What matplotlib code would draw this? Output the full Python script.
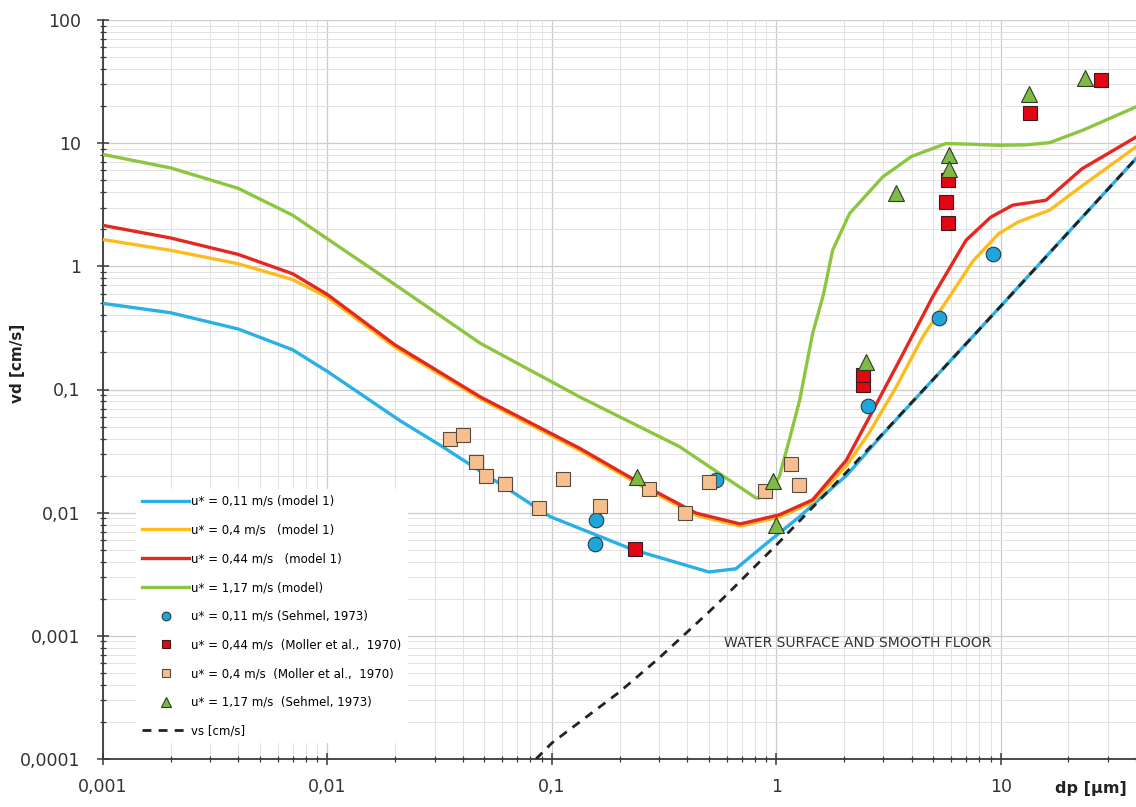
import matplotlib
matplotlib.use("Agg")
import matplotlib.pyplot as plt
from matplotlib.ticker import FixedLocator, FixedFormatter, LogLocator, NullFormatter

# ---------------- data ----------------
# model curves
dp_m011 = [0.001, 0.002, 0.004, 0.007, 0.01, 0.021, 0.032, 0.065, 0.098, 0.23, 0.5, 0.66,
           0.9, 1.27, 1.6, 2.05, 3.0, 5.0, 10.0, 20.0, 40.0]
vd_m011 = [0.5, 0.42, 0.31, 0.21, 0.14, 0.056, 0.035, 0.0152, 0.0093, 0.005, 0.0033, 0.0035,
           0.0056, 0.0093, 0.0135, 0.02, 0.044, 0.121, 0.476, 1.89, 7.5]

dp_m04 = [0.001, 0.002, 0.004, 0.007, 0.01, 0.02, 0.048, 0.133, 0.264, 0.44, 0.69, 1.03, 1.45,
          2.05, 2.6, 3.42, 4.5, 5.9, 7.5, 9.8, 12.0, 16.5, 23.0, 40.0]
vd_m04 = [1.65, 1.35, 1.05, 0.78, 0.56, 0.22, 0.084, 0.032, 0.0156, 0.0095, 0.0078, 0.0092, 0.0122,
          0.024, 0.045, 0.105, 0.27, 0.566, 1.1, 1.85, 2.3, 2.86, 4.5, 9.33]

dp_m044 = [0.001, 0.002, 0.004, 0.007, 0.01, 0.02, 0.048, 0.133, 0.264, 0.44, 0.69, 1.03, 1.45,
           2.05, 2.6, 3.54, 4.97, 7.0, 9.0, 11.3, 15.9, 23.0, 40.0]
vd_m044 = [2.15, 1.7, 1.25, 0.87, 0.59, 0.23, 0.087, 0.0333, 0.0162, 0.0099, 0.0081, 0.0096, 0.0127,
           0.0267, 0.06, 0.173, 0.566, 1.63, 2.5, 3.14, 3.44, 6.2, 11.2]

dp_m117 = [0.001, 0.002, 0.004, 0.007, 0.01, 0.02, 0.048, 0.133, 0.371, 0.6, 0.814, 0.9, 1.03,
           1.15, 1.27, 1.45, 1.62, 1.78, 2.12, 2.98, 4.0, 5.7, 7.5, 9.8, 13.0, 16.5, 23.2, 40.0]
vd_m117 = [8.1, 6.3, 4.3, 2.6, 1.67, 0.71, 0.237, 0.087, 0.0343, 0.019, 0.0131, 0.0135, 0.0196,
           0.041, 0.082, 0.285, 0.59, 1.35, 2.69, 5.33, 7.8, 9.94, 9.8, 9.6, 9.7, 10.1, 12.75, 19.7]

# settling velocity vs
dp_vs = [0.085, 0.1, 0.2, 0.3, 0.5, 0.587, 1.0, 2.0, 3.0, 5.0, 10.0, 20.0, 40.0]
vd_vs = [1.0e-4, 1.35e-4, 3.5e-4, 6.6e-4, 0.00156, 0.00207, 0.00546, 0.0203, 0.0445, 0.121,
         0.476, 1.89, 7.5]

# measurements
dp_sehmel011 = [0.155, 0.157, 0.54, 2.57, 5.3, 9.2]
vd_sehmel011 = [0.0056, 0.0088, 0.0184, 0.073, 0.38, 1.27]

dp_moller044 = [0.235, 2.43, 2.43, 5.7, 5.8, 5.83, 13.5, 27.8]
vd_moller044 = [0.0051, 0.109, 0.131, 3.3, 2.25, 5.0, 17.6, 32.5]

dp_moller04 = [0.035, 0.040, 0.046, 0.051, 0.062, 0.088, 0.112, 0.163, 0.27, 0.39, 0.50,
               0.89, 1.16, 1.26]
vd_moller04 = [0.040, 0.043, 0.0256, 0.020, 0.017, 0.011, 0.0186, 0.0113, 0.0155, 0.010,
               0.0178, 0.015, 0.025, 0.0167]

dp_sehmel117 = [0.24, 0.97, 1.0, 2.5, 3.4, 5.85, 5.9, 13.4, 23.8]
vd_sehmel117 = [0.0196, 0.018, 0.0079, 0.168, 3.95, 8.0, 6.2, 25.3, 33.5]

x_ticks = [0.001, 0.01, 0.1, 1, 10]
x_ticklabels = ["0,001", "0,01", "0,1", "1", "10"]
y_ticks = [0.0001, 0.001, 0.01, 0.1, 1, 10, 100]
y_ticklabels = ["0,0001", "0,001", "0,01", "0,1", "1", "10", "100"]

labels = ["u* = 0,11 m/s (model 1)",
          "u* = 0,4 m/s   (model 1)",
          "u* = 0,44 m/s   (model 1)",
          "u* = 1,17 m/s (model)",
          "u* = 0,11 m/s (Sehmel, 1973)",
          "u* = 0,44 m/s  (Moller et al.,  1970)",
          "u* = 0,4 m/s  (Moller et al.,  1970)",
          "u* = 1,17 m/s  (Sehmel, 1973)",
          "vs [cm/s]"]

# ---------------- figure ----------------
plt.rcParams['font.family'] = ['DejaVu Sans']
fig = plt.figure(figsize=(11.36, 8.07), dpi=100)
W, H = 1136, 807
L, R, T, B = 103, 1136, 20, 759
ax = fig.add_axes([L / W, (H - B) / H, (R - L) / W, (B - T) / H])

c_blue = "#29b0e6"
c_yellow = "#fdbb1c"
c_red = "#e5281f"
c_green = "#8cc63f"

lw = 2.4
h1, = ax.plot(dp_m011, vd_m011, color=c_blue, lw=lw, zorder=3, solid_joinstyle='round')
h2, = ax.plot(dp_m04, vd_m04, color=c_yellow, lw=lw, zorder=3, solid_joinstyle='round')
h3, = ax.plot(dp_m044, vd_m044, color=c_red, lw=lw, zorder=3.1, solid_joinstyle='round')
h4, = ax.plot(dp_m117, vd_m117, color=c_green, lw=lw, zorder=3, solid_joinstyle='round')
h9, = ax.plot(dp_vs, vd_vs, color="#222222", lw=2.0, ls=(0, (3.2, 2.6)), zorder=3.5)

h5, = ax.plot(dp_sehmel011, vd_sehmel011, ls='none', marker='o', ms=10.5,
              mfc="#1ea5dc", mec="#2b3a45", mew=0.8, zorder=4)
h6, = ax.plot(dp_moller044, vd_moller044, ls='none', marker='s', ms=10,
              mfc="#e30613", mec="#3a1a1a", mew=0.8, zorder=4.1)
h7, = ax.plot(dp_moller04, vd_moller04, ls='none', marker='s', ms=10,
              mfc="#f6c08e", mec="#5a4a3e", mew=0.8, zorder=4.2)
h8, = ax.plot(dp_sehmel117, vd_sehmel117, ls='none', marker='^', ms=11,
              mfc="#7dbb45", mec="#2f3a25", mew=0.8, zorder=4.3)

ax.set_xscale('log')
ax.set_yscale('log')
ax.set_xlim(0.001, 40)
ax.set_ylim(0.0001, 100)

ax.xaxis.set_major_locator(FixedLocator(x_ticks))
ax.xaxis.set_major_formatter(FixedFormatter(x_ticklabels))
ax.yaxis.set_major_locator(FixedLocator(y_ticks))
ax.yaxis.set_major_formatter(FixedFormatter(y_ticklabels))
ax.xaxis.set_minor_locator(LogLocator(base=10, subs=range(2, 10), numticks=50))
ax.yaxis.set_minor_locator(LogLocator(base=10, subs=range(2, 10), numticks=50))
ax.xaxis.set_minor_formatter(NullFormatter())
ax.yaxis.set_minor_formatter(NullFormatter())

ax.grid(which='major', color='#cccccc', lw=0.9)
ax.grid(which='minor', color='#e2e2e2', lw=0.7)
ax.set_axisbelow(True)

for s in ['top', 'right']:
    ax.spines[s].set_visible(False)
for s in ['left', 'bottom']:
    ax.spines[s].set_color('#3a3a3a')
    ax.spines[s].set_linewidth(1.3)

ax.tick_params(which='major', direction='inout', length=8, width=1.1, color='#3a3a3a',
               labelsize=12.5, labelcolor='#333333')
ax.tick_params(which='minor', direction='inout', length=4, width=0.9, color='#3a3a3a')
ax.tick_params(axis='y', which='major', pad=12)
ax.tick_params(axis='x', which='major', pad=10)

ax.set_ylabel("vd [cm/s]", fontsize=11, fontweight='bold', color='#222222')
ax.yaxis.set_label_coords((25 - L) / (R - L), (B - 363) / (B - T))
ax.set_xlabel("dp [µm]", fontsize=11.5, fontweight='bold', color='#222222')
ax.xaxis.set_label_coords((1091 - L) / (R - L), (B - 781) / (B - T))

ax.text((858 - L) / (R - L), (B - 643) / (B - T), "WATER SURFACE AND SMOOTH FLOOR",
        transform=ax.transAxes, ha='center', va='center', fontsize=10, color='#333333', zorder=5)

leg = ax.legend([h1, h2, h3, h4, h5, h6, h7, h8, h9], labels,
                loc='upper left', bbox_to_anchor=((136 - L) / (R - L), (B - 489) / (B - T)),
                borderaxespad=0, fontsize=8.5, frameon=True, facecolor='white',
                edgecolor='none', framealpha=1, fancybox=False, handlelength=4.0,
                handletextpad=0.2, labelspacing=1.33, markerscale=0.6, numpoints=1,
                borderpad=0.5)
leg.set_zorder(6)

fig.savefig("out.png", dpi=100)
